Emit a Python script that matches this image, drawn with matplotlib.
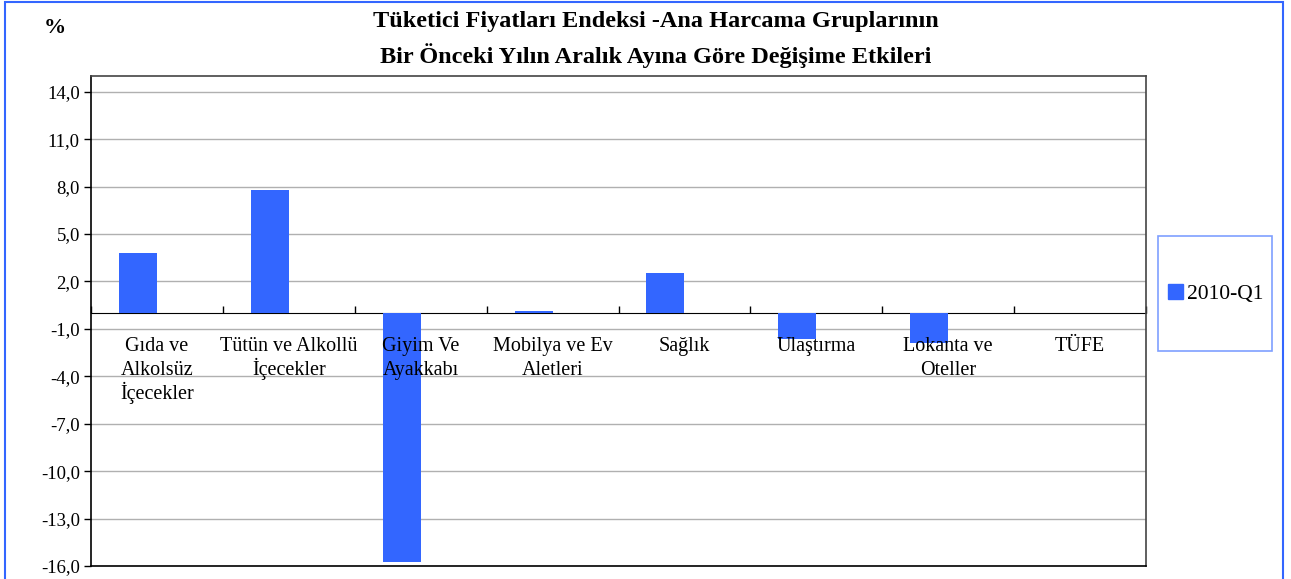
import numpy as np
import matplotlib
matplotlib.use("Agg")
import matplotlib.pyplot as plt
from matplotlib.patches import Rectangle, Patch

# -------------------- data --------------------
categories = [
    "Gıda ve\nAlkolsüz\nİçecekler",
    "Tütün ve Alkollü\nİçecekler",
    "Giyim Ve\nAyakkabı",
    "Mobilya ve Ev\nAletleri",
    "Sağlık",
    "Ulaştırma",
    "Lokanta ve\nOteller",
    "TÜFE",
]
values_2010q1 = [3.81, 7.79, -15.77, 0.14, 2.54, -1.61, -1.90, 0.0]
series_name = "2010-Q1"
y_ticks = [14, 11, 8, 5, 2, -1, -4, -7, -10, -13, -16]
y_min, y_max = -16, 15

title = ("Tüketici Fiyatları Endeksi -Ana Harcama Gruplarının\n"
         "Bir Önceki Yılın Aralık Ayına Göre Değişime Etkileri")

bar_color = "#3366FF"
serif = ["Liberation Serif", "DejaVu Serif"]
plt.rcParams["font.family"] = serif

# -------------------- figure --------------------
fig = plt.figure(figsize=(12.91, 5.79), dpi=100)
ax = fig.add_axes([91 / 1291, 1 - 566 / 579, (1146 - 91) / 1291, (566 - 76) / 579])

x = np.arange(len(categories))
ax.bar(x - 0.144, values_2010q1, width=0.288, color=bar_color, zorder=3)

ax.set_xlim(-0.5, len(categories) - 0.5)
ax.set_ylim(y_min, y_max)
ax.set_yticks(y_ticks)
ax.set_yticklabels([f"{v:.1f}".replace(".", ",") for v in y_ticks], fontsize=13.5)
ax.tick_params(axis="y", direction="out", length=5, width=1, pad=3)
ax.set_xticks([])
ax.grid(axis="y", color="#b0b0b0", linewidth=1, zorder=0)

for side in ["left", "bottom"]:
    ax.spines[side].set_color("black")
    ax.spines[side].set_linewidth(1.2)
for side in ["top", "right"]:
    ax.spines[side].set_color("#444444")
    ax.spines[side].set_linewidth(1.2)

# x axis at zero with ticks at category boundaries
zero_pos = (0 - y_min) / (y_max - y_min)
sec = ax.secondary_xaxis(zero_pos)
sec.set_xticks(np.arange(len(categories) + 1) - 0.5)
sec.set_xticklabels([""] * (len(categories) + 1))
sec.tick_params(direction="out", length=5, width=1, colors="black")
sec.spines["bottom"].set_linewidth(1.2)

# category labels under the zero line, one line at a time
for i, lab in enumerate(categories):
    for k, line in enumerate(lab.split("\n")):
        ax.annotate(line, xy=(i, 0), xytext=(0, -27 - 17.5 * k),
                    textcoords="offset points", ha="center", va="baseline",
                    fontsize=14.5, zorder=4)

# titles
fig.text(656 / 1291, 1 - 22 / 579, title.split("\n")[0], ha="center", va="center",
         fontsize=17.5, fontweight="bold")
fig.text(656 / 1291, 1 - 55.5 / 579, title.split("\n")[1], ha="center", va="center",
         fontsize=17.5, fontweight="bold")
fig.text(55 / 1291, 1 - 28 / 579, "%", ha="center", va="center",
         fontsize=16, fontweight="bold")

# legend
fig.patches.append(Rectangle((1158 / 1291, 1 - 351 / 579), 114 / 1291, 115 / 579,
                             transform=fig.transFigure, fill=False,
                             edgecolor="#7f9fff", linewidth=1.2))
fig.legend(handles=[Patch(color=bar_color, label=series_name)],
           loc="center", bbox_to_anchor=(1216 / 1291, 1 - 294 / 579),
           frameon=False, fontsize=15.5, handlelength=0.7, handleheight=0.7,
           handletextpad=0.2)

# outer border
fig.patches.append(Rectangle((5 / 1291, -0.01), 1278 / 1291, 1.0 - 1.5 / 579 + 0.01,
                             transform=fig.transFigure, fill=False,
                             edgecolor="#3366FF", linewidth=1.5))

fig.savefig("out.png", dpi=100)
